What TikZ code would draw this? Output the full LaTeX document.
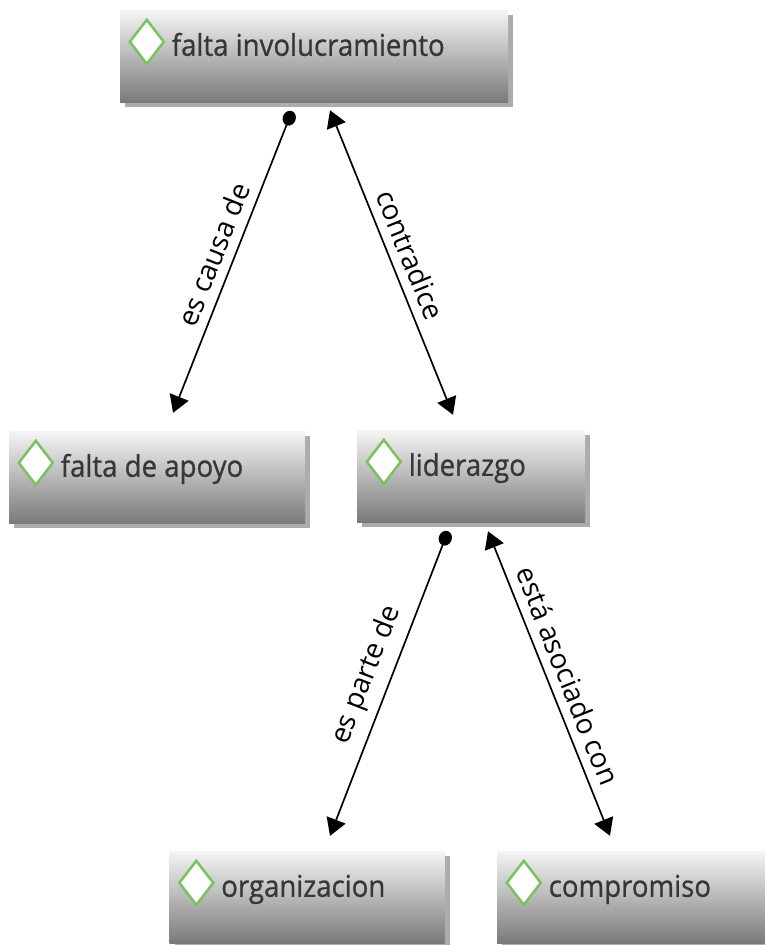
\documentclass[tikz,border=0pt]{standalone}
\usepackage{fontspec}
\setmainfont{Open Sans}
\newfontfamily\boxfont[FakeStretch=0.92, FakeBold=0.8]{Open Sans}
\usetikzlibrary{arrows.meta,calc,shadows,shapes.geometric}
\definecolor{boxtop}{RGB}{245,245,245}
\definecolor{boxbot}{RGB}{122,122,122}
\definecolor{gemline}{RGB}{120,195,95}
\definecolor{boxtext}{RGB}{55,55,55}

\begin{document}
\begin{tikzpicture}[x=1pt, y=-1pt,
		concept/.style={rectangle, inner sep=0pt, minimum height=92pt,
			top color=boxtop, bottom color=boxbot,
			drop shadow={shadow xshift=5pt, shadow yshift=-5pt, fill=black!65}},
		gem/.style={diamond, draw=gemline, line width=2.5pt, fill=white,
			inner sep=0pt, minimum width=35pt, minimum height=45pt},
		ctext/.style={anchor=base west, inner sep=0pt, text=boxtext,
			font=\boxfont\fontsize{30}{34}\selectfont},
		link/.style={line width=1.7pt, black},
		rel/.style={sloped, above, midway, inner sep=9pt,
			font=\fontsize{28}{32}\selectfont},
		dot/.tip={Circle[length=15pt, width=13pt]},
		head/.tip={Triangle[length=17pt, width=20pt]}]
		\useasboundingbox (0,0) rectangle (764,945);

		% concepts: name / x / y / width / text
		\foreach \n/\x/\y/\w/\t in {inv/314/56/388/falta involucramiento,
				apo/157/477/296/falta de apoyo, lid/471/476/228/liderazgo,
				org/307/897/275/organizacion, com/632/897/270/compromiso} {
			\node[concept, minimum width=\w pt] (\n) at (\x, \y) {};
			\node[gem] (\n g) at ($(\n.north west) + (27, 32)$) {};
			\node[ctext] (\n t) at ($(\n g.east) + (6, 14)$) {\t};
		}

		% links
		\draw[link, dot-head] ($(inv.south) + (-22, 9)$) -- ($(apo.north) + (16, -18)$)
			node[rel] {es causa de};
		\draw[link, head-head] ($(inv.south) + (16, 8)$) -- ($(lid.north) + (-18, -15)$)
			node[rel] {contradice};
		\draw[link, dot-head] ($(lid.south) + (-23, 9)$) -- ($(org.north) + (23, -15)$)
			node[rel] {es parte de};
		\draw[link, head-head] ($(lid.south) + (17, 9)$) -- ($(com.north) + (-22, -15)$)
			node[rel] {está asociado con};
	\end{tikzpicture}
\end{document}
